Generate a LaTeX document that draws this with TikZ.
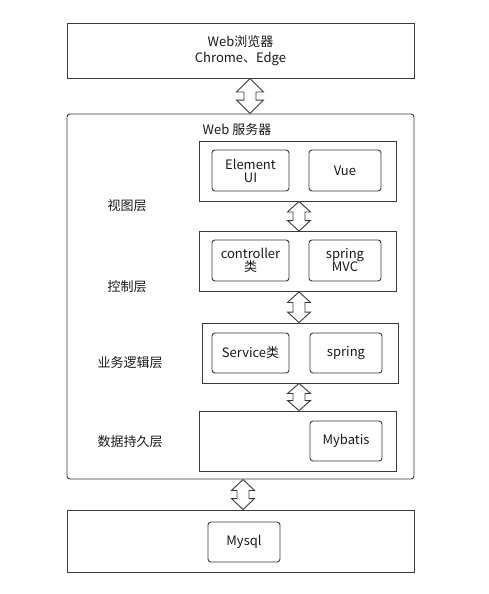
\documentclass[tikz,border=0pt]{standalone}
\usepackage{fontspec}
\setmainfont{Noto Sans CJK SC}
\usetikzlibrary{calc}
\definecolor{ln}{HTML}{3A3A3A}
\definecolor{tx}{HTML}{1A1A1A}
\tikzset{
  outer/.style={draw=ln, line width=0.9pt, inner sep=0pt, align=center, text=tx},
  layer/.style={draw=ln, line width=0.9pt, inner sep=0pt},
  item/.style={draw=ln, line width=0.9pt, rounded corners=3pt, inner sep=0pt, align=center, text=tx, font=\fontsize{13}{15}\selectfont},
  lbl/.style={text=tx, inner sep=0pt, font=\fontsize{13}{15}\selectfont},
  dblarr/.style={draw=ln, line width=0.9pt, fill=white, line join=miter},
}
% #1 start, #2 end (vertical), #3 head length, #4 head half width (shaft half width 6)
\newcommand\hollowarrow[4]{%
  \draw[dblarr] (#1) -- ++(#4,#3) -- ++({6-#4},0) -- ($(#2)+(6,-#3)$) -- ++({#4-6},0) -- (#2)
    -- ++(-#4,-#3) -- ++({#4-6},0) -- ($(#1)+(-6,#3)$) -- ++({6-#4},0) -- cycle;}
\begin{document}
\begin{tikzpicture}[x=1pt,y=-1pt]
\useasboundingbox (0,0) rectangle (488,594);
\fill[white] (0,0) rectangle (488,594);
% top
\node[outer, minimum width=347pt, minimum height=55pt, font=\fontsize{13}{16}\selectfont] (browser) at (240.5,50.5) {Web浏览器\\Chrome、Edge};
% server
\node[outer, rounded corners=3pt, minimum width=347pt, minimum height=365pt] (server) at (240.5,296.5) {};
\node[lbl] (servertitle) at (237,130) {Web 服务器};
% layers
\node[layer, minimum width=197pt, minimum height=60pt] (view) at (297.5,171) {};
\node[item, minimum width=77pt, minimum height=41pt] (element) at (250.5,170.5) {Element\\[-2pt]UI};
\node[item, minimum width=72pt, minimum height=41pt] (vue) at (345,170.5) {Vue};
\node[lbl] (viewlbl) at (127,206) {视图层};

\node[layer, minimum width=197pt, minimum height=60pt] (ctrl) at (297.5,261.5) {};
\node[item, minimum width=77pt, minimum height=41pt] (controller) at (250.5,260.5) {controller\\[-2pt]类};
\node[item, minimum width=72pt, minimum height=41pt] (mvc) at (345,260.5) {spring\\[-2pt]MVC};
\node[lbl] (ctrllbl) at (127,287) {控制层};

\node[layer, minimum width=196pt, minimum height=60pt] (biz) at (300,353) {};
\node[item, minimum width=77pt, minimum height=40pt] (service) at (250.5,353) {Service类};
\node[item, minimum width=72pt, minimum height=40pt] (spring) at (346,353) {spring};
\node[lbl] (bizlbl) at (130,363) {业务逻辑层};

\node[layer, minimum width=197pt, minimum height=60pt] (data) at (297.5,441) {};
\node[item, minimum width=72pt, minimum height=40pt] (mybatis) at (346,441) {Mybatis};
\node[lbl] (datalbl) at (130,442) {数据持久层};

% bottom
\node[outer, minimum width=347pt, minimum height=62pt] (db) at (240.5,541) {};
\node[item, minimum width=72pt, minimum height=40pt] (mysql) at (244,542) {Mysql};

% arrow anchor coordinates
\coordinate (x1) at (250,0);
\coordinate (x2) at (299,0);
\coordinate (x5) at (243,0);
\hollowarrow{browser.south -| x1}{server.north -| x1}{13.5}{13.5}
\hollowarrow{view.south -| x2}{ctrl.north -| x2}{10.5}{11.5}
\hollowarrow{ctrl.south -| x2}{biz.north -| x2}{10.5}{11.5}
\hollowarrow{biz.south -| x2}{data.north -| x2}{10}{11.5}
\hollowarrow{server.south -| x5}{db.north -| x5}{11}{11.5}
\end{tikzpicture}
\end{document}
